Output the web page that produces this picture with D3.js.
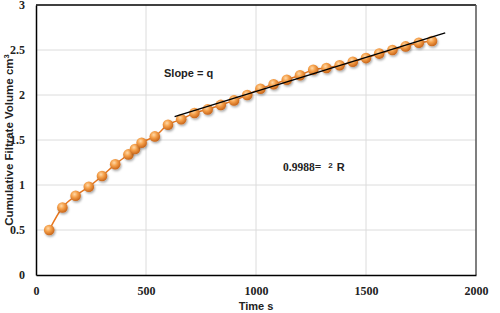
<!DOCTYPE html>
<html>
<head>
<meta charset="utf-8">
<script src="https://cdn.jsdelivr.net/npm/d3@7"></script>
<style>
  body { margin: 0; background: #fff; }
  svg { display: block; }
  .tick text { font-family: "Liberation Serif", "Times New Roman", serif; font-weight: bold; font-size: 12px; fill: #222; }
  .lbl { font-family: "Liberation Sans", Arial, sans-serif; font-weight: bold; fill: #222; }
</style>
</head>
<body>
<svg id="chart" width="500" height="313"></svg>
<script>
// data
const timeS = [60, 120, 180, 240, 300, 360, 420, 450, 480, 540, 600, 660, 720, 780, 840, 900, 960,
    1020, 1080, 1140, 1200, 1260, 1320, 1380, 1440, 1500, 1560, 1620, 1680, 1740, 1800];
const volume = [0.5, 0.75, 0.88, 0.98, 1.1, 1.23, 1.34, 1.4, 1.47, 1.54, 1.67, 1.73, 1.8, 1.84, 1.89, 1.94, 2.0,
    2.07, 2.12, 2.17, 2.22, 2.28, 2.3, 2.33, 2.37, 2.41, 2.46, 2.5, 2.54, 2.58, 2.6];
const trendX = [630, 1860];
const trendY = [1.76, 2.69];
const xTicks = [0, 500, 1000, 1500, 2000];
const yTicks = [0, 0.5, 1, 1.5, 2, 2.5, 3];

const svg = d3.select('#chart');
const mLeft = 36, mRight = 476, mTop = 5, mBottom = 275;

let x = d3.scaleLinear().domain([0, 2000]).range([mLeft, mRight]);
let y = d3.scaleLinear().domain([0, 3]).range([mBottom, mTop]);

// sphere look for markers
let defs = svg.append('defs');
let grad = defs.append('radialGradient').attr('id', 'ball')
    .attr('cx', '40%').attr('cy', '35%').attr('r', '65%');
grad.append('stop').attr('offset', '0%').attr('stop-color', '#ffd9a8');
grad.append('stop').attr('offset', '45%').attr('stop-color', '#f5a04a');
grad.append('stop').attr('offset', '100%').attr('stop-color', '#c9661a');
let shadow = defs.append('filter').attr('id', 'shadow')
    .attr('x', '-50%').attr('y', '-50%').attr('width', '200%').attr('height', '200%');
shadow.append('feDropShadow').attr('dx', 1).attr('dy', 1.5).attr('stdDeviation', 1)
    .attr('flood-color', '#000').attr('flood-opacity', 0.35);

// gridlines
svg.append('g')
    .selectAll('line')
    .data(xTicks.slice(1, -1))
    .join('line')
    .attr('x1', d => x(d)).attr('x2', d => x(d))
    .attr('y1', mTop).attr('y2', mBottom)
    .attr('stroke', '#dcdcdc').attr('stroke-width', 1);
svg.append('g')
    .selectAll('line')
    .data(yTicks.slice(1, -1))
    .join('line')
    .attr('y1', d => y(d)).attr('y2', d => y(d))
    .attr('x1', mLeft).attr('x2', mRight)
    .attr('stroke', '#dcdcdc').attr('stroke-width', 1);

// plot frame
svg.append('line').attr('x1', mLeft).attr('x2', mRight).attr('y1', mTop).attr('y2', mTop)
    .attr('stroke', '#000').attr('stroke-width', 1.5);
svg.append('line').attr('x1', mRight).attr('x2', mRight).attr('y1', mTop).attr('y2', mBottom)
    .attr('stroke', '#555').attr('stroke-width', 1.5);

// axes
let xAxis = d3.axisBottom(x).tickValues(xTicks).tickSize(0).tickPadding(11).tickFormat(d3.format('d'));
let yAxis = d3.axisLeft(y).tickValues(yTicks).tickSize(0).tickPadding(11).tickFormat(d => String(d));

let gx = svg.append('g').attr('transform', `translate(0,${mBottom})`).call(xAxis);
gx.select('.domain').attr('stroke', '#000').attr('stroke-width', 1.5);
let gy = svg.append('g').attr('transform', `translate(${mLeft},0)`).call(yAxis);
gy.select('.domain').attr('stroke', '#000').attr('stroke-width', 1.5);

// data curve
let pts = timeS.map((t, i) => [t, volume[i]]);
svg.append('path')
    .datum(pts)
    .attr('fill', 'none')
    .attr('stroke', '#e8771f')
    .attr('stroke-width', 1.5)
    .attr('d', d3.line().x(d => x(d[0])).y(d => y(d[1])).curve(d3.curveMonotoneX));

svg.append('g')
    .selectAll('circle')
    .data(pts)
    .join('circle')
    .attr('cx', d => x(d[0]))
    .attr('cy', d => y(d[1]))
    .attr('r', 5.3)
    .attr('fill', 'url(#ball)')
    .attr('filter', 'url(#shadow)');

// linear trendline
svg.append('line')
    .attr('x1', x(trendX[0])).attr('y1', y(trendY[0]))
    .attr('x2', x(trendX[1])).attr('y2', y(trendY[1]))
    .attr('stroke', '#000').attr('stroke-width', 1.5);

// annotations
svg.append('text').attr('class', 'lbl').attr('x', 164).attr('y', 77)
    .style('font-size', '11px').text('Slope = q');

let r2 = svg.append('text').attr('x', 283).attr('y', 171);
r2.append('tspan').style('font-family', '"Liberation Serif", serif').style('font-weight', 'bold')
    .style('font-size', '11.5px').attr('fill', '#222').text('0.9988=');
r2.append('tspan').attr('class', 'lbl').style('font-size', '8px').attr('dx', 7).attr('dy', -3).text('2');
r2.append('tspan').attr('class', 'lbl').style('font-size', '11px').attr('dx', 4).attr('dy', 3).text('R');

// axis titles
svg.append('text').attr('class', 'lbl')
    .attr('x', x(1000)).attr('y', 310)
    .attr('text-anchor', 'middle')
    .style('font-size', '11px')
    .text('Time  s');

let yl = svg.append('text').attr('class', 'lbl')
    .attr('transform', 'translate(13,140) rotate(-90)')
    .attr('text-anchor', 'middle')
    .style('font-size', '11.5px');
yl.append('tspan').text('Cumulative Filtrate Volume cm');
yl.append('tspan').attr('dy', -4).style('font-size', '7.5px').text('3');
</script>
</body>
</html>
